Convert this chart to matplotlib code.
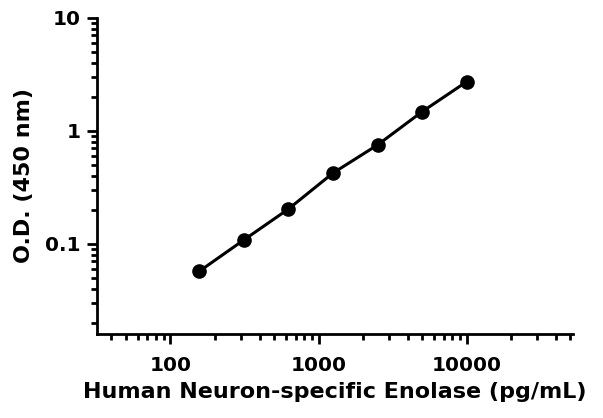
import matplotlib
matplotlib.use("Agg")
import matplotlib.pyplot as plt
from matplotlib.ticker import LogLocator, FixedLocator, NullFormatter

# ---- data ----
conc = [156.25, 312.5, 625, 1250, 2500, 5000, 10000]   # pg/mL
od = [0.057, 0.108, 0.203, 0.423, 0.751, 1.48, 2.73]    # O.D. 450 nm
xticks = [100, 1000, 10000]
xticklabels = ["100", "1000", "10000"]
yticks = [0.1, 1, 10]
yticklabels = ["0.1", "1", "10"]

plt.rcParams['font.family'] = ['DejaVu Sans']
plt.rcParams['font.weight'] = 'bold'

fig = plt.figure(figsize=(6.03, 4.18), dpi=100)
ax = fig.add_axes([0.161, 0.201, 0.789, 0.756])

ax.plot(conc, od, color='k', lw=2.2, marker='o', ms=9.5, zorder=3)

ax.set_xscale('log')
ax.set_yscale('log')
ax.set_xlim(32, 52000)
ax.set_ylim(0.0159, 10)

ax.xaxis.set_major_locator(FixedLocator(xticks))
ax.set_xticklabels(xticklabels)
ax.yaxis.set_major_locator(FixedLocator(yticks))
ax.set_yticklabels(yticklabels)
ax.xaxis.set_minor_locator(LogLocator(base=10, subs=range(2, 10), numticks=20))
ax.yaxis.set_minor_locator(LogLocator(base=10, subs=range(2, 10), numticks=20))
ax.xaxis.set_minor_formatter(NullFormatter())
ax.yaxis.set_minor_formatter(NullFormatter())

for s in ['top', 'right']:
    ax.spines[s].set_visible(False)
for s in ['left', 'bottom']:
    ax.spines[s].set_linewidth(2)

ax.tick_params(which='major', direction='out', length=7, width=2, labelsize=14.5, pad=5)
ax.tick_params(axis='x', which='major', pad=9)
ax.tick_params(which='minor', direction='out', length=4, width=2)

ax.set_xlabel("Human Neuron-specific Enolase (pg/mL)", fontsize=16, fontweight='bold', labelpad=5)
ax.set_ylabel("O.D. (450 nm)", fontsize=16, fontweight='bold', labelpad=8)

fig.savefig("out.png", dpi=100)
